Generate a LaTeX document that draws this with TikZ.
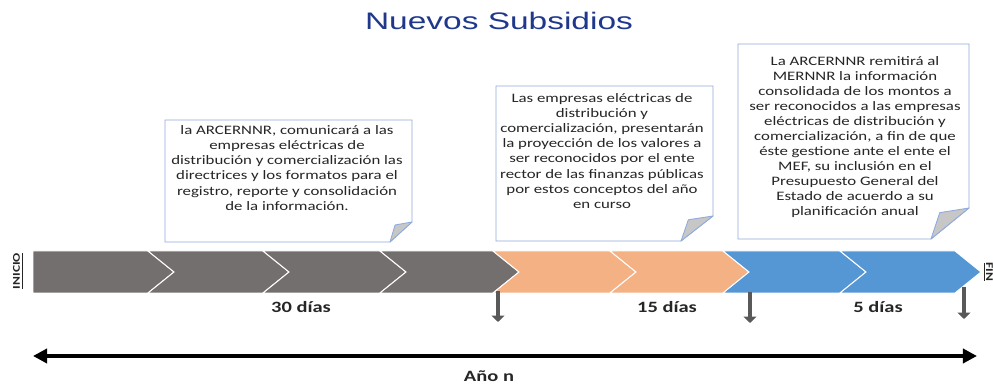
\documentclass[tikz,border=0pt]{standalone}
\usepackage{fontspec}
\usepackage{tikz}
\usetikzlibrary{arrows.meta}
\setmainfont{Carlito}
\newfontfamily\notafont[FakeStretch=1.3]{Carlito}
\newfontfamily\titulofont[FakeStretch=1.4]{Liberation Sans}
\definecolor{gris}{RGB}{115,111,110}
\definecolor{naranja}{RGB}{244,177,131}
\definecolor{azul}{RGB}{85,150,212}
\definecolor{bordenota}{RGB}{143,170,220}
\definecolor{azultitulo}{RGB}{31,56,140}
\definecolor{texto}{RGB}{38,38,38}
\definecolor{flecha}{RGB}{89,89,89}

% nota con esquina doblada: x1, y1, x2, y2, pliegue dx, pliegue dy
\newcommand{\nota}[6]{%
  \draw[nota] (#1,#2) -- (#1,#4) -- (#3,#4) -- (#3,{#2+#6}) -- ({#3-#5},#2) -- cycle;
  \filldraw[pliegue] (#3,{#2+#6}) -- ({#3-0.77*#5},{#2+0.85*#6}) -- ({#3-#5},#2) -- cycle;
}

\begin{document}
\begin{tikzpicture}
  [x=0.025cm,y=0.025cm,
   every node/.style={text=texto},
   nota/.style={draw=bordenota, fill=white, line width=0.6pt},
   pliegue/.style={draw=bordenota, fill=black!22, line width=0.6pt, line join=round},
   etapa/.style={draw=white, line width=0.7pt},
   texto nota/.style={align=center, font=\notafont\fontsize{9.2}{10.7}\selectfont},
   dias/.style={font=\notafont\bfseries\fontsize{11.2}{13}\selectfont},
   bajada/.style={draw=flecha, line width=3pt, -{Triangle[width=9pt,length=4.5pt]}}]
  \useasboundingbox (0,0) rectangle (993,385);

  \node[font=\titulofont\fontsize{17}{20}\selectfont, text=azultitulo] (titulo) at (499,364) {Nuevos Subsidios};

  % barra de etapas
  \foreach \xa/\xb/\col/\pico in {33/148/gris/0,148/263/gris/26,263/380/gris/26,380/493/gris/26,
      493/610/naranja/26,610/723/naranja/26,723/840/azul/26,840/955/azul/26}
    \filldraw[etapa, fill=\col] (\xa,134) -- (\xb,134) -- ({\xb+26},113) -- (\xb,92)
      -- (\xa,92) -- ({\xa+\pico},113) -- cycle;

  \node[rotate=90, font=\notafont\bfseries\fontsize{7.4}{9}\selectfont] (inicio) at (18,114) {\underline{INICIO}};
  \node[rotate=-90, font=\notafont\bfseries\fontsize{7.4}{9}\selectfont] (fin) at (988,113) {\underline{FIN}};

  % notas
  \nota{165}{143}{412}{265}{22}{20}
  \nota{496}{144}{713}{299}{32}{25}
  \nota{738}{146}{969}{341}{38}{31}

  \node[texto nota] (nota1) at (287,217) {la ARCERNNR, comunicará a las\\ empresas eléctricas de\\
    distribución y comercialización las\\ directrices y los formatos para el\\
    registro, reporte y consolidación\\ de la información.};
  \node[texto nota] (nota2) at (602,234) {Las empresas eléctricas de\\ distribución y\\
    comercialización, presentarán\\ la proyección de los valores a\\ ser reconocidos por el ente\\
    rector de las finanzas públicas\\ por estos conceptos del año\\ en curso};
  \node[texto nota] (nota3) at (855,248) {La ARCERNNR remitirá al\\ MERNNR la información\\
    consolidada de los montos a\\ ser reconocidos a las empresas\\ eléctricas de distribución y\\
    comercialización, a fin de que\\ éste gestione ante el ente el\\ MEF, su inclusión en el\\
    Presupuesto General del\\ Estado de acuerdo a su\\ planificación anual};

  % plazos
  \coordinate (p1) at (498,94);  \coordinate (p1b) at (498,63);
  \coordinate (p2) at (750,93);  \coordinate (p2b) at (750,62);
  \coordinate (p3) at (964,98);  \coordinate (p3b) at (964,66);
  \foreach \from/\to in {p1/p1b,p2/p2b,p3/p3b}
    \draw[bajada] (\from) -- (\to);

  \node[dias] (d30) at (301,78) {30 días};
  \node[dias] (d15) at (667,78) {15 días};
  \node[dias] (d5) at (878,78) {5 días};

  \coordinate (ini) at (33,29);
  \coordinate (fina) at (977,29);
  \draw[line width=2.6pt, {Triangle[length=10pt,width=10pt]}-{Triangle[length=10pt,width=10pt]}] (ini) -- (fina);
  \node[dias] (anio) at (489,9) {Año n};
\end{tikzpicture}
\end{document}
